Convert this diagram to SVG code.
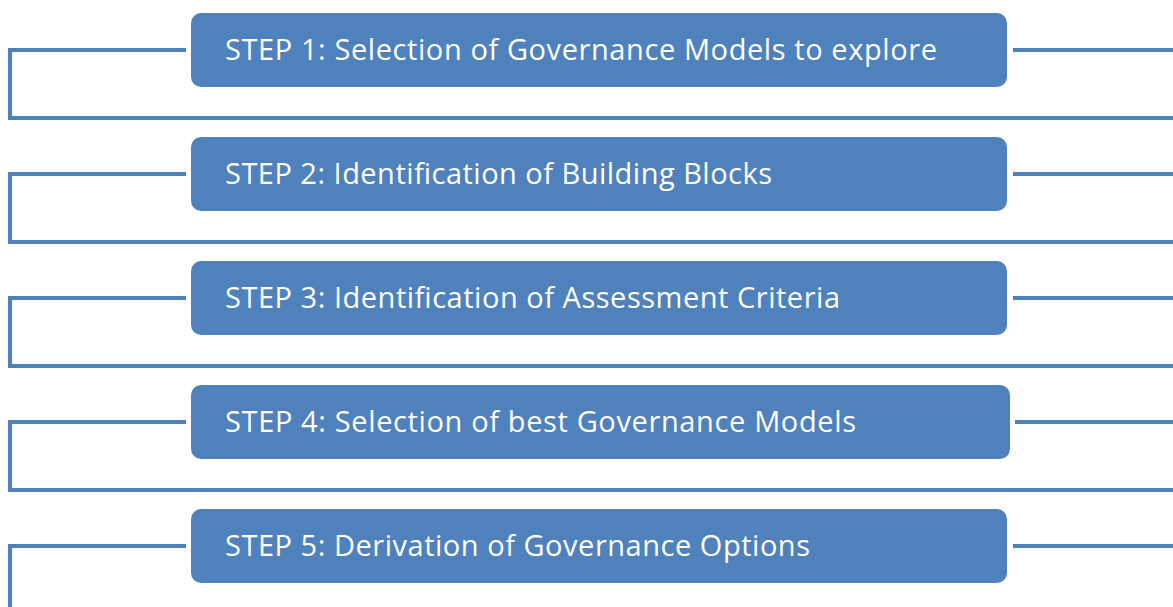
<svg xmlns="http://www.w3.org/2000/svg" width="1173" height="607" viewBox="0 0 1173 607">
  <style>
    .box { fill: #4F81BD; }
    .label { fill: #FFFFFF; font-family: "Open Sans", "Noto Sans", "Liberation Sans", sans-serif; font-size: 29px; }
    .link { fill: none; stroke: #4F81BD; stroke-width: 4; stroke-linejoin: miter; }
  </style>
  <rect width="1173" height="607" fill="#FFFFFF"/>

  <!-- connectors: left bracket from each step down to a full-width rule, plus a stub on the right -->
  <g id="connectors">
    <polyline class="link" points="186,50 10,50 10,118 1173,118"/>
    <line class="link" x1="1013" y1="50" x2="1173" y2="50"/>
    <polyline class="link" points="186,174 10,174 10,242 1173,242"/>
    <line class="link" x1="1013" y1="174" x2="1173" y2="174"/>
    <polyline class="link" points="186,298 10,298 10,366 1173,366"/>
    <line class="link" x1="1013" y1="298" x2="1173" y2="298"/>
    <polyline class="link" points="186,422 10,422 10,490 1173,490"/>
    <line class="link" x1="1015" y1="422" x2="1173" y2="422"/>
    <polyline class="link" points="186,546 10,546 10,609"/>
    <line class="link" x1="1013" y1="546" x2="1173" y2="546"/>
  </g>

  <g id="step1">
    <rect class="box" x="191" y="13" width="816" height="74" rx="10"/>
    <text class="label" x="225" y="60" textLength="712" lengthAdjust="spacing">STEP 1: Selection of Governance Models to explore</text>
  </g>
  <g id="step2">
    <rect class="box" x="191" y="137" width="816" height="74" rx="10"/>
    <text class="label" x="225" y="184" textLength="547" lengthAdjust="spacing">STEP 2: Identification of Building Blocks</text>
  </g>
  <g id="step3">
    <rect class="box" x="191" y="261" width="816" height="74" rx="10"/>
    <text class="label" x="225" y="308" textLength="615" lengthAdjust="spacing">STEP 3: Identification of Assessment Criteria</text>
  </g>
  <g id="step4">
    <rect class="box" x="191" y="385" width="819" height="74" rx="10"/>
    <text class="label" x="225" y="432" textLength="631" lengthAdjust="spacing">STEP 4: Selection of best Governance Models</text>
  </g>
  <g id="step5">
    <rect class="box" x="191" y="509" width="816" height="74" rx="10"/>
    <text class="label" x="225" y="556" textLength="585" lengthAdjust="spacing">STEP 5: Derivation of Governance Options</text>
  </g>
</svg>
